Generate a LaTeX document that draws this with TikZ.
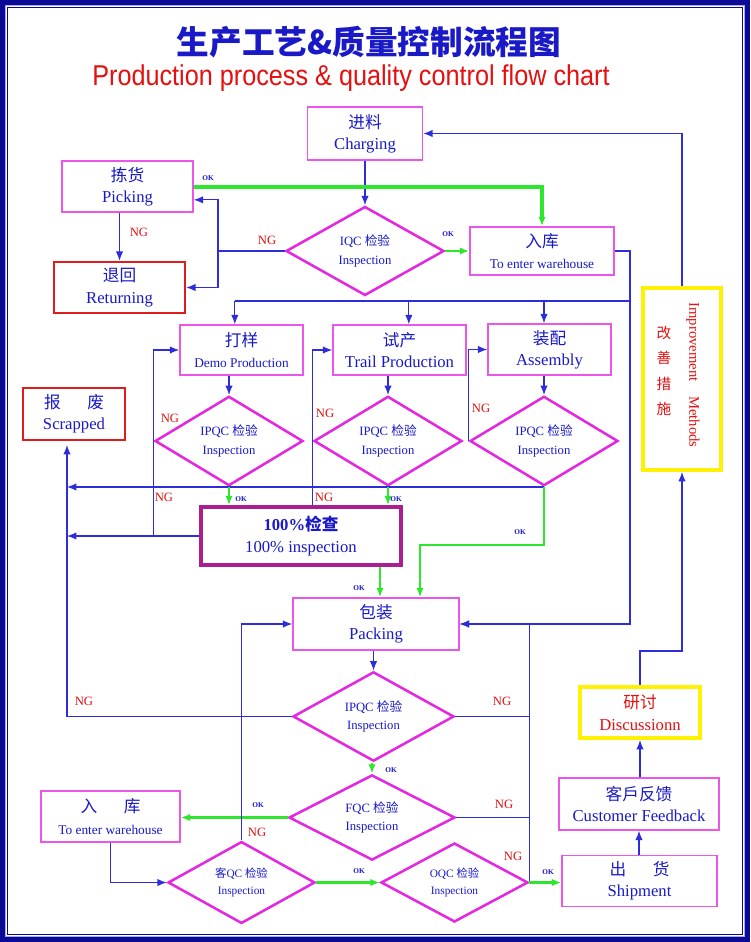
\documentclass[tikz,border=0pt]{standalone}
\usepackage{fontspec}
\setmainfont{Liberation Serif}
\newfontfamily\cjk{Noto Sans CJK SC}
\newfontfamily\subfont{Liberation Sans}
\usetikzlibrary{shapes.geometric,arrows.meta}
\definecolor{navy}{RGB}{10,10,150}
\definecolor{lavender}{RGB}{170,170,235}
\definecolor{lineblue}{RGB}{45,45,220}
\definecolor{okgreen}{RGB}{45,230,45}
\definecolor{boxpink}{RGB}{235,85,235}
\definecolor{diamag}{RGB}{228,40,225}
\definecolor{redline}{RGB}{222,30,30}
\definecolor{textblue}{RGB}{25,25,200}
\definecolor{ngred}{RGB}{230,15,15}
\definecolor{fullpurple}{RGB}{170,30,145}
\newcommand\zh[1]{{\cjk #1}}
\newcommand\sm{\fontsize{10}{16}\selectfont}
\begin{document}
\begin{tikzpicture}[x=0.75pt,y=-0.75pt,>={Latex[length=7pt,width=5.5pt]},
            wh/.style 2 args={minimum width=#1*0.75pt,minimum height=#2*0.75pt},
            line/.style={lineblue,line width=0.9pt},
            ok/.style={okgreen,line width=2.2pt},
            box/.style={draw=boxpink,line width=1.1pt,align=center,text=textblue,inner sep=0pt,font=\fontsize{12.5}{16}\selectfont},
            redbox/.style={box,draw=redline,line width=1.8pt},
            yelbox/.style={box,draw=yellow,line width=3pt,text=ngred},
            check/.style={diamond,draw=diamag,line width=1.9pt,align=center,text=textblue,inner sep=0pt,font=\fontsize{9.5}{14}\selectfont},
            ng/.style={text=ngred,inner sep=0pt,font=\fontsize{9.5}{10}\selectfont},
            oklabel/.style={text=textblue,inner sep=0pt,font=\bfseries\fontsize{5.5}{6}\selectfont}]
            \useasboundingbox (0,0) rectangle (750,942);
            \fill[navy] (0,0) rectangle (750,942);
            \fill[white] (5,5) rectangle (745,937);
            \draw[lavender,line width=1pt] (5.7,5.7) rectangle (744.3,936.3);
            \draw[navy,line width=0.8pt] (7.2,7.2) rectangle (742.8,934.8);
            \node[text=textblue,inner sep=0pt,font=\fontsize{24.5}{28}\selectfont\cjk\bfseries] (title) at (369,42) {生产工艺\&质量控制流程图};
            \node[text=ngred,inner sep=0pt,font=\fontsize{21.5}{24}\selectfont\subfont] (subtitle) at (351,78) {\scalebox{0.88}[1]{Production process \& quality control flow chart}};

            \node[box,wh={115}{53}] (charge) at (365,133.5) {\zh{进料}\\Charging};
            \node[box,wh={131}{51}] (pick) at (127.5,186.5) {\zh{拣货}\\Picking};
            \node[check,wh={158}{89}] (iqc) at (365,251) {IQC \zh{检验}\\Inspection};
            \node[box,wh={144}{48}] (store1) at (542,251) {\zh{入库}\\{\sm To enter warehouse}};
            \node[redbox,wh={131}{51}] (ret) at (119.5,287.5) {\zh{退回}\\Returning};
            \node[draw=yellow,line width=3pt,wh={78}{182}] (improve) at (682,379) {};
            \node[text=ngred,inner sep=0pt,align=center,font=\fontsize{11}{19}\selectfont\cjk] (improvezh) at (664,371) {改\\善\\措\\施};
            \node[text=ngred,inner sep=0pt,rotate=-90,font=\fontsize{11}{12}\selectfont] (improveen) at (693,375) {Improvement\quad Methods};

            \node[box,wh={123}{50}] (demo) at (241.5,350) {\zh{打样}\\{\sm Demo Production}};
            \node[box,wh={133}{50}] (trial) at (399.5,350) {\zh{试产}\\Trail Production};
            \node[box,wh={123}{51}] (assem) at (549.5,349.5) {\zh{装配}\\Assembly};
            \node[redbox,wh={102}{52}] (scrap) at (74,414) {\zh{报\hspace{1.6em}废}\\Scrapped};
            \node[check,wh={148}{78}] (ipqc1) at (229,441) {IPQC \zh{检验}\\Inspection};
            \node[check,wh={148}{78}] (ipqc2) at (388,441) {IPQC \zh{检验}\\Inspection};
            \node[check,wh={148}{78}] (ipqc3) at (544,441) {IPQC \zh{检验}\\Inspection};
            \node[box,draw=fullpurple,line width=2.6pt,wh={200}{58}] (full) at (301,536) {\textbf{100\%\zh{检查}}\\100\% inspection};

            \node[box,wh={166}{52}] (pack) at (376,624) {\zh{包装}\\Packing};
            \node[check,wh={161}{79}] (ipqc4) at (373.5,716.5) {IPQC \zh{检验}\\Inspection};
            \node[check,wh={166}{79}] (fqc) at (372,817.5) {FQC \zh{检验}\\Inspection};
            \node[box,wh={139}{51}] (store2) at (110.5,816.5) {\zh{入\hspace{1.6em}库}\\{\sm To enter warehouse}};
            \node[check,wh={147}{79},font=\fontsize{8.5}{13}\selectfont] (kqc) at (241.5,882.5) {\zh{客}QC \zh{检验}\\Inspection};
            \node[check,wh={147}{79},font=\fontsize{8.5}{13}\selectfont] (oqc) at (454.5,882.5) {OQC \zh{检验}\\Inspection};
            \node[box,wh={155}{51}] (ship) at (639.5,881) {\zh{出\hspace{1.6em}货}\\Shipment};
            \node[box,wh={160}{52}] (cfb) at (639,804) {\zh{客戶反馈}\\Customer Feedback};
            \node[yelbox,wh={120}{51}] (disc) at (640,712.5) {\zh{研讨}\\Discussionn};

            \coordinate (ngA) at (218,251);
            \coordinate (busR) at (630,301);
            \coordinate (sL) at (67,445);
            \coordinate (okC) at (420,545);
            \coordinate (dUp) at (640,651);

            \draw[line,->] (charge.south) -- (iqc.north);
            \draw[ok,line width=3pt,->] (pick.east) -| (store1.north);
            \draw[line,->] (iqc.west) -- (ngA) |- ([yshift=-10pt]pick.east);
            \draw[line,->] (ngA) |- (ret.east);
            \draw[line,->] (ret.north |- pick.south) -- (ret.north);
            \draw[ok,->] (iqc.east) -- (store1.west);
            \draw[line,->] (store1.east) -| (busR) |- (pack.east);
            \draw[line] (busR) -- ([xshift=-5pt]demo.north |- busR);
            \draw[line,->] ([xshift=-5pt]demo.north |- busR) -- ([xshift=-5pt]demo.north);
            \draw[line,->] ([xshift=7pt]trial.north |- busR) -- ([xshift=7pt]trial.north);
            \draw[line,->] (ipqc3.north |- busR) -- (ipqc3.north |- assem.north);
            \draw[line,->] (improve.north) |- (charge.east);

            \draw[line,->] (ipqc1.north |- demo.south) -- (ipqc1.north);
            \draw[line,->] (ipqc2.north |- trial.south) -- (ipqc2.north);
            \draw[line,->] (ipqc3.north |- assem.south) -- (ipqc3.north);
            \draw[line,->] (ipqc1.west |- full.west) |- (demo.west);
            \draw[line,->] (ipqc2.west |- full.north) |- (trial.west);
            \draw[line,->] (ipqc3.west) |- (assem.west);
            \draw[line,->] (ipqc3.south) -- (ipqc3.south -| sL);
            \draw[line,->] (full.west) -- (full.west -| sL);
            \draw[line,->] (ipqc4.west) -| (sL);
            \draw[ok,->] (ipqc1.south) -- (ipqc1.south |- full.north);
            \draw[ok,->] (ipqc2.south) -- (ipqc2.south |- full.north);
            \draw[ok,->] (ipqc3.south) |- (okC) -- (okC |- pack.north);
            \draw[ok,->] ([xshift=3pt]pack.north |- full.south) -- ([xshift=3pt]pack.north);

            \draw[line,->] (ipqc4.north |- pack.south) -- (ipqc4.north);
            \draw[line] (ipqc4.east) -- (ipqc4.east -| oqc.east);
            \draw[line] (fqc.east) -- (fqc.east -| oqc.east);
            \draw[line,->] (oqc.east) |- (pack.east);
            \draw[ok,->] (fqc.north |- ipqc4.south) -- (fqc.north);
            \draw[ok,->] (fqc.west) -- (fqc.west -| store2.east);
            \draw[line,->] (store2.south) |- (kqc.west);
            \draw[line,->] (kqc.north) |- (pack.west);
            \draw[ok,->] (kqc.east) -- (oqc.west);
            \draw[ok,->] (oqc.east) -- (oqc.east -| ship.west);
            \draw[line,->] (cfb.south |- ship.north) -- (cfb.south);
            \draw[line,->] (disc.south |- cfb.north) -- (disc.south);
            \draw[line,->] (disc.north) -- (dUp) -| (improve.south);

            \node[oklabel] (ok1) at (208,178) {OK};
            \node[oklabel] (ok2) at (448,234) {OK};
            \node[oklabel] (ok3) at (241,499) {OK};
            \node[oklabel] (ok4) at (396,499) {OK};
            \node[oklabel] (ok5) at (520,532) {OK};
            \node[oklabel] (ok6) at (359,588) {OK};
            \node[oklabel] (ok7) at (391,770) {OK};
            \node[oklabel] (ok8) at (258,805) {OK};
            \node[oklabel] (ok9) at (359,871) {OK};
            \node[oklabel] (ok10) at (548,872) {OK};
            \node[ng] (ng1) at (139,232) {NG};
            \node[ng] (ng2) at (267,240) {NG};
            \node[ng] (ng3) at (170,418) {NG};
            \node[ng] (ng4) at (325,413) {NG};
            \node[ng] (ng5) at (481,408) {NG};
            \node[ng] (ng6) at (164,497) {NG};
            \node[ng] (ng7) at (324,497) {NG};
            \node[ng] (ng8) at (84,701) {NG};
            \node[ng] (ng9) at (502,701) {NG};
            \node[ng] (ng10) at (504,804) {NG};
            \node[ng] (ng11) at (257,832) {NG};
            \node[ng] (ng12) at (513,856) {NG};
        \end{tikzpicture}
\end{document}
